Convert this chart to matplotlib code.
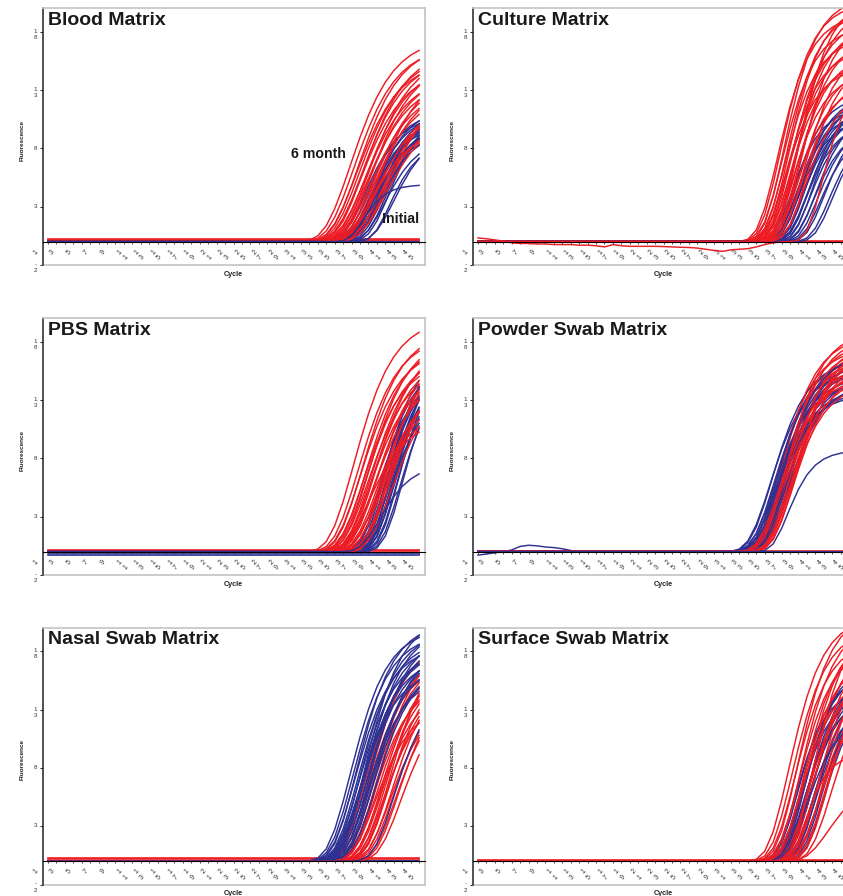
import numpy as np
import matplotlib.pyplot as plt
from matplotlib.transforms import ScaledTranslation

plt.rcParams['font.family'] = ['Liberation Sans', 'DejaVu Sans']

RED = '#ED1C24'
BLUE = '#2E3192'
GREY = '#c4c4c4'

cycles = np.arange(1, 46)
xtick_cycles = list(range(1, 46, 2))
xtick_labels = ["\n".join(str(c)) for c in xtick_cycles]
ytick_values = [18000, 13000, 8000, 3000, -2000]
ytick_labels = ["1\n8", "1\n3", "8", "3", "-\n2"]

titles = ["Blood Matrix", "Culture Matrix", "PBS Matrix",
          "Powder Swab Matrix", "Nasal Swab Matrix", "Surface Swab Matrix"]

# curve shape: midpoint cycle and plateau of every run
blood_red_mid = [36.8, 37.2, 37.5, 37.7, 37.9, 38.1, 38.2, 38.4, 38.5, 38.7, 38.8, 39.0, 39.1,
                 39.2, 39.3, 39.5, 39.6, 39.7, 39.9, 40.1, 40.2, 40.4, 40.7, 41.0, 41.2, 39.4]
blood_red_top = [17500, 16800, 15500, 17000, 16000, 14800, 15800, 16500, 14200, 15200, 13800, 16000, 14500,
                 13200, 15500, 12800, 14000, 11500, 13500, 12200, 14800, 10800, 12500, 11000, 13000, 10000]
blood_blue_mid = [38.5, 38.9, 39.1, 39.3, 39.5, 39.6, 39.7, 39.8, 39.9, 40.0, 40.1,
                  40.2, 40.3, 40.4, 40.5, 40.7, 40.9, 41.1, 39.5, 39.2, 41.5, 42.0]
blood_blue_top = [10800, 11200, 10200, 11000, 10500, 11500, 9800, 10800, 11200, 10000, 10600,
                  11000, 9500, 10400, 11800, 10200, 9000, 10800, 9200, 10000, 11500, 9500]

culture_red_mid = [36.5, 36.8, 37.0, 37.2, 37.3, 37.5, 37.6, 37.8, 37.9, 38.0, 38.1, 38.2, 38.3,
                   38.5, 38.6, 38.7, 38.8, 39.0, 39.1, 39.3, 39.4, 39.6, 39.8, 40.0, 37.4, 38.9]
culture_red_top = [19500, 20500, 18500, 21000, 17500, 19800, 16500, 20200, 18000, 15500, 19000, 17000, 14500,
                   18500, 16000, 20000, 13500, 17500, 15000, 19000, 14000, 16500, 13000, 15500, 15000, 21000]
culture_blue_mid = [38.2, 38.5, 38.7, 38.9, 39.0, 39.2, 39.3, 39.5, 39.6, 39.8, 39.9,
                    40.0, 40.2, 40.4, 40.6, 40.8, 41.0, 41.3, 41.6, 42.0, 42.6, 43.0]
culture_blue_top = [11500, 12500, 11000, 12000, 10500, 11800, 12500, 10800, 11500, 12200, 10200,
                    11000, 11800, 10500, 12000, 9800, 11000, 10200, 9500, 10500, 9800, 10000]

pbs_red_mid = [37.2, 37.7, 38.0, 38.2, 38.4, 38.6, 38.7, 38.9, 39.0, 39.2, 39.3, 39.4, 39.6,
               39.7, 39.8, 40.0, 40.2, 40.3, 40.5, 40.7, 40.9, 41.2, 41.5, 41.8, 39.1, 40.2]
pbs_red_top = [20000, 18500, 17500, 19000, 16500, 18000, 17000, 16000, 18500, 15500, 17500, 16800, 15000,
               18000, 16200, 17000, 15800, 14500, 16500, 15000, 17500, 15500, 16000, 14800, 12000, 13500]
pbs_blue_mid = [40.5, 40.8, 41.0, 41.1, 41.3, 41.4, 41.5, 41.6, 41.7, 41.8,
                41.9, 42.0, 42.1, 42.3, 42.5, 42.7, 40.7, 41.5, 40.3, 43.0]
pbs_blue_top = [16000, 17000, 15500, 16500, 17000, 15000, 16000, 17500, 15000, 16500,
                14500, 16000, 17000, 15500, 16500, 15000, 14000, 13500, 15000, 16000]

powder_red_mid = [36.5, 36.7, 36.9, 37.0, 37.1, 37.2, 37.3, 37.4, 37.5, 37.6, 37.7, 37.8,
                  37.9, 38.0, 38.1, 38.2, 38.3, 38.4, 38.5, 37.0, 37.5, 38.0, 36.8, 38.6]
powder_red_top = [17500, 16500, 18500, 17000, 16000, 18000, 17500, 15500, 17000, 18500, 16200, 17500,
                  15000, 16800, 18000, 16000, 17200, 15500, 16500, 15000, 19000, 14500, 15200, 17800]
powder_blue_mid = [35.6, 35.8, 36.0, 36.1, 36.3, 36.4, 36.5, 36.6, 36.8,
                   36.9, 37.0, 37.2, 37.3, 37.5, 37.7, 36.2, 37.0, 36.7]
powder_blue_top = [15500, 16500, 14500, 16000, 15000, 16800, 14000, 15500, 16200,
                   14800, 15800, 14200, 16500, 15000, 14500, 13500, 17000, 13800]

nasal_red_mid = [38.6, 38.9, 39.1, 39.3, 39.5, 39.6, 39.8, 40.0, 40.1, 40.3, 40.5, 40.6,
                 40.8, 41.0, 41.1, 41.3, 41.5, 41.7, 41.9, 42.2, 42.5, 42.8, 39.7, 41.4]
nasal_red_top = [18500, 17000, 19000, 16500, 18000, 15500, 17500, 16000, 18500, 15000, 17000, 16200,
                 14500, 17500, 15500, 16500, 14000, 16000, 15000, 14500, 15500, 14000, 13500, 18500]
nasal_blue_mid = [36.8, 37.1, 37.3, 37.5, 37.7, 37.8, 38.0, 38.1, 38.3, 38.4, 38.6,
                  38.7, 38.8, 39.0, 39.1, 39.3, 39.4, 39.6, 39.8, 37.9, 38.5, 38.9]
nasal_blue_top = [20000, 19500, 18500, 20500, 19000, 18000, 19800, 17500, 19000, 18200, 20000,
                  17800, 18800, 17200, 19500, 18000, 16800, 18500, 17000, 16500, 21000, 16000]

surface_red_mid = [37.8, 38.2, 38.5, 38.8, 39.0, 39.2, 39.4, 39.6, 39.8, 40.0, 40.2, 40.4,
                   40.6, 40.8, 41.0, 41.3, 41.6, 41.8, 42.1, 42.4, 42.8, 39.3, 40.7, 41.4]
surface_red_top = [21000, 20000, 19000, 21500, 18500, 20500, 17500, 19500, 18000, 20000, 16500, 19000,
                   17000, 18500, 16000, 18000, 15500, 17500, 16000, 17000, 15500, 16000, 21000, 14000]
surface_blue_mid = [38.6, 38.9, 39.1, 39.3, 39.5, 39.6, 39.8, 40.0, 40.1, 40.3,
                    40.5, 40.6, 40.8, 41.0, 41.2, 41.4, 41.7, 42.0, 39.9, 39.7]
surface_blue_top = [15000, 16000, 14500, 15500, 16500, 14000, 15000, 16000, 14500, 15200,
                    16200, 13800, 15000, 14200, 15800, 14000, 15000, 14500, 12500, 17000]

red_mids = [blood_red_mid, culture_red_mid, pbs_red_mid, powder_red_mid, nasal_red_mid, surface_red_mid]
red_tops = [blood_red_top, culture_red_top, pbs_red_top, powder_red_top, nasal_red_top, surface_red_top]
blue_mids = [blood_blue_mid, culture_blue_mid, pbs_blue_mid, powder_blue_mid, nasal_blue_mid, surface_blue_mid]
blue_tops = [blood_blue_top, culture_blue_top, pbs_blue_top, powder_blue_top, nasal_blue_top, surface_blue_top]
red_k = [3.0, 2.3, 2.8, 2.5, 2.6, 2.4]
blue_k = [2.4, 2.1, 2.2, 2.5, 2.6, 2.2]

# runs that do not follow their group: (panel, group, mid, top, k)
odd_panel = [0, 0, 2, 2, 3, 4, 5, 5, 1]
odd_group = ["initial", "initial", "6 month", "initial", "initial", "initial", "6 month", "6 month", "6 month"]
odd_mid = [38.3, 41.5, 40.3, 40.3, 37.7, 42.0, 39.8, 42.5, 41.8]
odd_top = [4900, 8500, 10800, 7500, 8700, 15000, 9200, 7000, 14000]
odd_k = [1.6, 2.0, 1.6, 2.2, 1.8, 2.4, 1.6, 2.5, 1.8]

# culture run that drifts below the baseline before a late rise (added to the last odd run)
culture_drift = [320, 250, 150, 50, -100, -150, -150, -200, -200, -250, -250, -250, -300, -300, -350,
                 -450, -250, -350, -400, -400, -400, -400, -420, -450, -480, -500, -550, -650, -750,
                 -830, -700, -650, -600, -450, -250, -100, 0, 0, 0, 0, 0, 0, 0, 0, 0]
# powder swab negative run with an early bump
powder_bump = [-300, -200, -100, 0, 150, 450, 550, 500, 400, 350, 250, 100, 0, 0, 0, 0, 0, 0, 0, 0,
               0, 0, 0, 0, 0, 0, 0, 0, 0, 0, 0, 0, 0, 0, 0, 0, 0, 0, 0, 0, 0, 0, 0, 0, 0]

# flat (negative) runs
flat_red = [[150, 250], [0, 80], [80, 150], [0, 60], [150, 250], [0, 80]]
flat_blue = [[0, 50], [0], [-150, -250], [0], [0, 40], [0, 30]]


def gompertz(mid, top, k):
    return top * np.exp(-np.exp(-(cycles - mid) / k))


W, H = 843, 896
BOX_W, BOX_H = 382, 257
col_x = [43, 473]
row_y = [8, 318, 627.5]
LW = 1.05

fig = plt.figure(figsize=(W / 100, H / 100), dpi=100)

for p, title in enumerate(titles):
    x0 = col_x[p % 2]
    y0 = row_y[p // 2]
    ax = fig.add_axes([x0 / W, 1 - (y0 + BOX_H) / H, BOX_W / W, BOX_H / H])

    for lvl in flat_blue[p]:
        ax.plot(cycles, np.full(cycles.shape, lvl), color=BLUE, lw=1.2)
    for lvl in flat_red[p]:
        ax.plot(cycles, np.full(cycles.shape, lvl), color=RED, lw=1.2)
    if p == 3:
        ax.plot(cycles, powder_bump, color=BLUE, lw=LW)

    n = max(len(red_mids[p]), len(blue_mids[p]))
    for i in range(n):
        if i < len(blue_mids[p]):
            ax.plot(cycles, gompertz(blue_mids[p][i], blue_tops[p][i], blue_k[p]), color=BLUE, lw=LW)
        if i < len(red_mids[p]):
            ax.plot(cycles, gompertz(red_mids[p][i], red_tops[p][i], red_k[p]), color=RED, lw=LW)

    for j in range(len(odd_panel)):
        if odd_panel[j] != p:
            continue
        y = gompertz(odd_mid[j], odd_top[j], odd_k[j])
        if p == 1:
            y = y + np.array(culture_drift)
        ax.plot(cycles, y, color=RED if odd_group[j] == "6 month" else BLUE, lw=LW)

    ax.set_xlim(0.41, 45.7)
    ax.set_ylim(-2000, 20030)

    ax.spines['bottom'].set_position(('data', 0))
    ax.spines['bottom'].set_color('black')
    ax.spines['bottom'].set_linewidth(0.8)
    ax.spines['left'].set_color('#222222')
    ax.spines['left'].set_linewidth(1.1)
    for s in ['top', 'right']:
        ax.spines[s].set_color(GREY)
        ax.spines[s].set_linewidth(1.2)
    ax.plot([0, 1], [0, 0], transform=ax.transAxes, color=GREY, lw=1.2, clip_on=False)

    ax.set_xticks(xtick_cycles)
    ax.set_xticks(cycles, minor=True)
    ax.set_xticklabels(xtick_labels)
    ax.tick_params(axis='x', which='both', direction='out', length=1.5, width=0.5, pad=0,
                   labelsize=5, labelcolor='#333333')
    offset_x = ScaledTranslation(-0.15, -0.06, fig.dpi_scale_trans)
    for lab in ax.get_xticklabels():
        lab.set_rotation(45)
        lab.set_rotation_mode('anchor')
        lab.set_ha('center')
        lab.set_va('top')
        lab.set_transform(lab.get_transform() + offset_x)

    ax.set_yticks(ytick_values)
    ax.set_yticklabels(ytick_labels)
    ax.tick_params(axis='y', direction='out', length=2.2, width=0.6, pad=2,
                   labelsize=4.5, labelcolor='#333333')
    offset_y = ScaledTranslation(0, 0.028, fig.dpi_scale_trans)
    for lab in ax.get_yticklabels():
        lab.set_va('top')
        lab.set_transform(lab.get_transform() + offset_y)

    ax.set_xlabel("Cycle", fontsize=5.2, fontweight='bold', color='#222222')
    ax.xaxis.set_label_coords(0.497, -0.022)
    ax.set_ylabel("Fluorescence", fontsize=4.6, fontweight='bold', color='#222222')
    ax.yaxis.set_label_coords(-0.048, 0.485)

    ax.text(0.013, 0.985, title, transform=ax.transAxes, ha='left', va='top',
            fontsize=14, fontweight='bold', color='#1a1a1a')

    if p == 0:
        ax.text(29.8, 7480, "6 month", ha='left', va='center', fontsize=10.2,
                fontweight='bold', color='#1a1a1a')
        ax.text(40.6, 1980, "Initial", ha='left', va='center', fontsize=10.2,
                fontweight='bold', color='#1a1a1a')

fig.savefig("out.png", dpi=100)
